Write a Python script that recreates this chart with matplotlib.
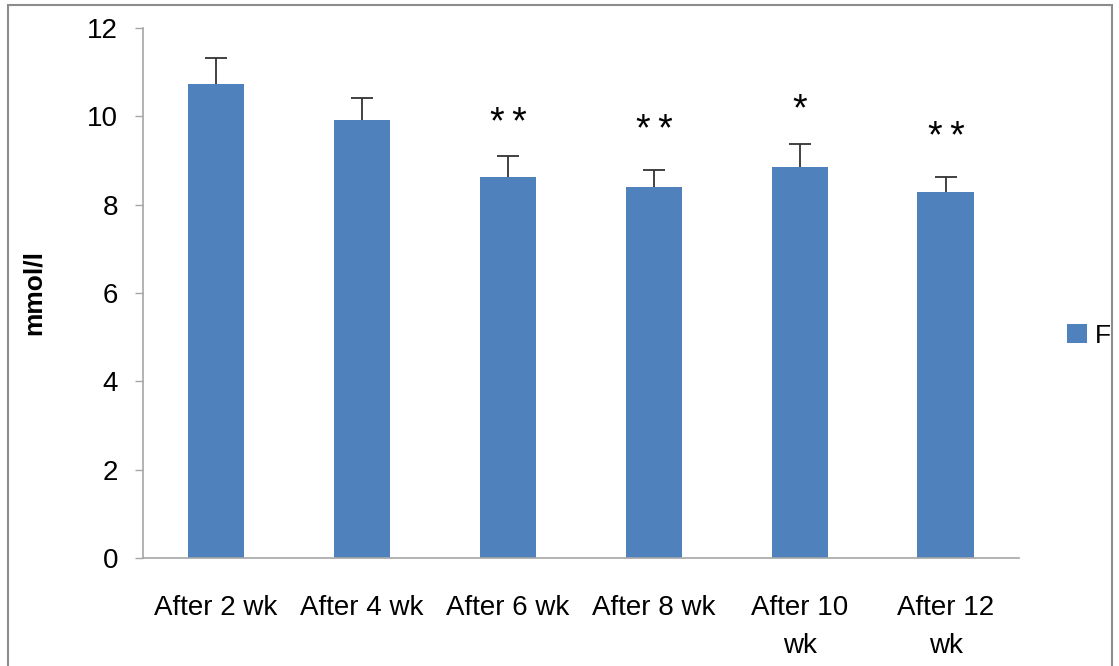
import matplotlib
matplotlib.use("Agg")
import matplotlib.pyplot as plt
from matplotlib.patches import Rectangle

plt.rcParams["font.family"] = ["Liberation Sans", "DejaVu Sans"]

categories = ["After 2 wk", "After 4 wk", "After 6 wk", "After 8 wk", "After 10\nwk", "After 12\nwk"]
values = [10.73, 9.92, 8.63, 8.40, 8.85, 8.29]
errors = [0.59, 0.49, 0.47, 0.38, 0.52, 0.34]
stars = ["", "", "*\u2009*", "*\u2009*", "*", "*\u2009*"]
star_y = [0, 0, 9.60, 9.44, 9.92, 9.28]

bar_color = "#4F81BD"
grey = "#A6A6A6"

fig = plt.figure(figsize=(11.19, 6.66), dpi=100)
ax = fig.add_axes([0.1278, 0.1622, 0.7828, 0.7958])

x = list(range(len(categories)))
ax.bar(x, values, width=0.39, color=bar_color, label="F", zorder=2)
eb = ax.errorbar(x, values, yerr=[[0] * len(errors), errors], fmt="none",
                 ecolor="#333333", elinewidth=1.3, capsize=8, capthick=1.3, zorder=3)
# only the upper whisker is shown
eb[1][0].set_visible(False)

for xi, s, sy in zip(x, stars, star_y):
    if s:
        ax.text(xi, sy, s, ha="center", va="baseline", fontsize=27)

ax.set_xlim(-0.5, 5.5)
ax.set_ylim(0, 12)
ax.set_yticks(range(0, 13, 2))
ax.set_xticks(x)
ax.set_xticklabels(categories, fontsize=20, va="top", linespacing=1.6)
ax.tick_params(axis="x", length=0, pad=27)
ax.tick_params(axis="y", labelsize=20, length=6, width=1, color=grey, pad=12)

for side in ["top", "right"]:
    ax.spines[side].set_visible(False)
ax.spines["left"].set_color(grey)
ax.spines["bottom"].set_color(grey)
ax.spines["left"].set_linewidth(1.2)
ax.spines["bottom"].set_linewidth(1.2)

ax.set_ylabel("mmol/l", fontsize=19, fontweight="bold", labelpad=30)

ax.legend(loc="center left", bbox_to_anchor=(1067 / 1119, 0.4955),
          bbox_transform=fig.transFigure, frameon=False, borderpad=0,
          borderaxespad=0, fontsize=19, handlelength=0.75, handleheight=0.75,
          handletextpad=0.3)

fig.patches.append(Rectangle((8 / 1119, -0.05), 1104 / 1119, 1.0 - 5 / 666 + 0.05,
                             transform=fig.transFigure, fill=False,
                             edgecolor="#8C8C8C", linewidth=1.5))

fig.savefig("out.png", dpi=100)
